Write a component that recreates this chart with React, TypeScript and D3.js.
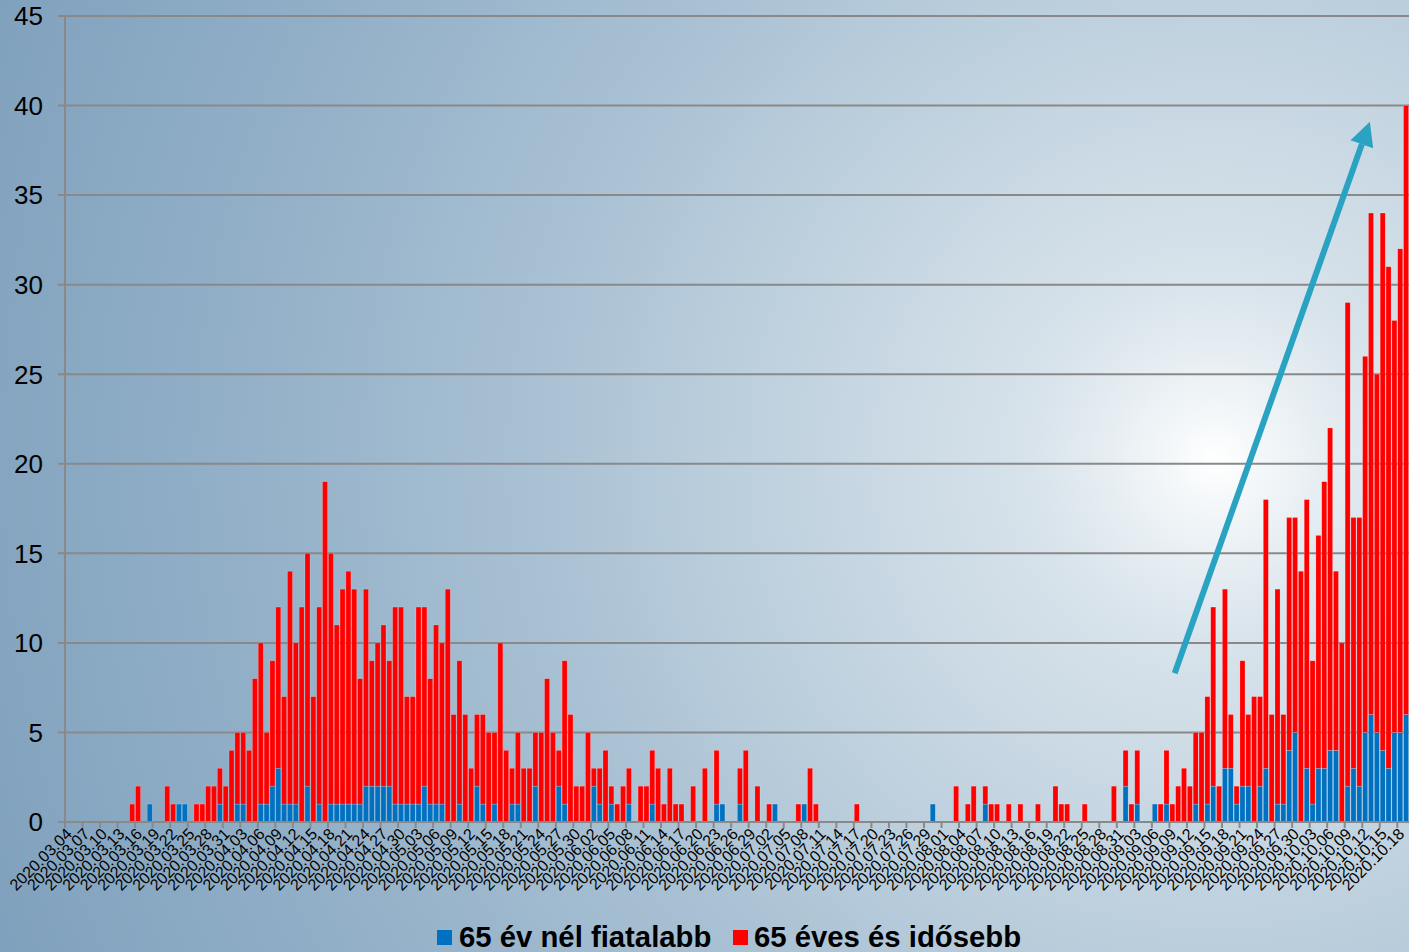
import React from "react";
import * as d3 from "d3";

// Categories: one per day, 2020.03.04 – 2020.10.19
const startDate = new Date(2020, 2, 4);
const endDate = new Date(2020, 9, 20);
const dates: Date[] = d3.timeDay.range(startDate, endDate);
const fmt = d3.timeFormat("%Y.%m.%d");
const categories: string[] = dates.map((d) => fmt(d));

// 65 év nél fiatalabb (blue)
const under65: number[] = [
  0, 0, 0, 0, 0, 0, 0, 0, 0, 0,
  0, 0, 0, 0, 1, 0, 0, 0, 0, 1,
  1, 0, 0, 0, 0, 0, 1, 0, 0, 1,
  1, 0, 0, 1, 1, 2, 3, 1, 1, 1,
  0, 2, 0, 1, 0, 1, 1, 1, 1, 1,
  1, 2, 2, 2, 2, 2, 1, 1, 1, 1,
  1, 2, 1, 1, 1, 0, 0, 1, 0, 0,
  2, 1, 0, 1, 0, 0, 1, 1, 0, 0,
  2, 0, 0, 0, 2, 1, 0, 0, 0, 0,
  2, 1, 0, 1, 0, 0, 1, 0, 0, 0,
  1, 0, 0, 0, 0, 0, 0, 0, 0, 0,
  0, 1, 1, 0, 0, 1, 0, 0, 0, 0,
  0, 1, 0, 0, 0, 0, 1, 0, 0, 0,
  0, 0, 0, 0, 0, 0, 0, 0, 0, 0,
  0, 0, 0, 0, 0, 0, 0, 0, 1, 0,
  0, 0, 0, 0, 0, 0, 0, 1, 0, 0,
  0, 0, 0, 0, 0, 0, 0, 0, 0, 0,
  0, 0, 0, 0, 0, 0, 0, 0, 0, 0,
  0, 2, 0, 1, 0, 0, 1, 0, 1, 0,
  0, 0, 0, 1, 0, 1, 2, 0, 3, 3,
  1, 2, 2, 0, 2, 3, 0, 1, 1, 4,
  5, 0, 3, 1, 3, 3, 4, 4, 0, 2,
  3, 2, 5, 6, 5, 4, 3, 5, 5, 6,
];

// 65 éves és idősebb (red)
const over65: number[] = [
  0, 0, 0, 0, 0, 0, 0, 0, 0, 0,
  0, 1, 2, 0, 0, 0, 0, 2, 1, 0,
  0, 0, 1, 1, 2, 2, 2, 2, 4, 4,
  4, 4, 8, 9, 4, 7, 9, 6, 13, 9,
  12, 13, 7, 11, 19, 14, 10, 12, 13, 12,
  7, 11, 7, 8, 9, 7, 11, 11, 6, 6,
  11, 10, 7, 10, 9, 13, 6, 8, 6, 3,
  4, 5, 5, 4, 10, 4, 2, 4, 3, 3,
  3, 5, 8, 5, 2, 8, 6, 2, 2, 5,
  1, 2, 4, 1, 1, 2, 2, 0, 2, 2,
  3, 3, 1, 3, 1, 1, 0, 2, 0, 3,
  0, 3, 0, 0, 0, 2, 4, 0, 2, 0,
  1, 0, 0, 0, 0, 1, 0, 3, 1, 0,
  0, 0, 0, 0, 0, 1, 0, 0, 0, 0,
  0, 0, 0, 0, 0, 0, 0, 0, 0, 0,
  0, 0, 2, 0, 1, 2, 0, 1, 1, 1,
  0, 1, 0, 1, 0, 0, 1, 0, 0, 2,
  1, 1, 0, 0, 1, 0, 0, 0, 0, 2,
  0, 2, 1, 3, 0, 0, 0, 1, 3, 1,
  2, 3, 2, 4, 5, 6, 10, 2, 10, 3,
  1, 7, 4, 7, 5, 15, 6, 12, 5, 13,
  12, 14, 15, 8, 13, 16, 18, 10, 10, 27,
  14, 15, 21, 28, 20, 30, 28, 23, 27, 34,
];

const yTicks: number[] = [0, 5, 10, 15, 20, 25, 30, 35, 40, 45];
const seriesKeys: string[] = ["under65", "over65"];
const seriesNames: string[] = ["65 év nél fiatalabb", "65 éves és idősebb"];
const seriesColors: string[] = ["#0070c0", "#ff0000"];

// trend arrow annotation (category index, value)
const arrowFrom: [number, number] = [189.4, 8.3];
const arrowTo: [number, number] = [222.8, 39.1];

const W = 1409;
const H = 952;
const M = { left: 65, right: 0, top: 16, bottom: 130 };

export default function App() {
  const x = d3
    .scaleBand<number>()
    .domain(d3.range(categories.length))
    .range([M.left, W - M.right])
    .paddingInner(0.14)
    .paddingOuter(0.07);
  const step = x.step();
  const y = d3.scaleLinear().domain([0, 45]).range([H - M.bottom, M.top]);
  const y0 = y(0);

  const rows = categories.map((c, i) => ({
    i,
    under65: under65[i],
    over65: over65[i],
  }));
  const stacked = d3.stack<any>().keys(seriesKeys)(rows);

  const catLeft = (i: number) => M.left + i * step;
  const catCenter = (i: number) => M.left + (i + 0.5) * step;

  const ax1 = catCenter(arrowFrom[0]);
  const ay1 = y(arrowFrom[1]);
  const ax2 = catCenter(arrowTo[0]);
  const ay2 = y(arrowTo[1]);
  const ang = Math.atan2(ay2 - ay1, ax2 - ax1);
  const headLen = 24;
  const headHalf = 12;
  const bx = ax2 - headLen * Math.cos(ang);
  const by = ay2 - headLen * Math.sin(ang);
  const px = -Math.sin(ang);
  const py = Math.cos(ang);
  const head = [
    [ax2, ay2],
    [bx + px * headHalf, by + py * headHalf],
    [bx - px * headHalf, by - py * headHalf],
  ];

  const tickIdx = d3.range(0, categories.length, 3);

  return (
    <div style={{ position: "absolute", left: 0, top: 0 }}>
      <svg
        width={W}
        height={H}
        style={{ display: "block", fontFamily: "'Liberation Sans', Arial, sans-serif" }}
      >
        <defs>
          <radialGradient
            id="bg"
            gradientUnits="userSpaceOnUse"
            cx={1215}
            cy={460}
            r={1300}
          >
            <stop offset="0" stopColor="#ffffff" />
            <stop offset="0.05" stopColor="#eff4f7" />
            <stop offset="0.14" stopColor="#d8e3eb" />
            <stop offset="0.37" stopColor="#bccfdd" />
            <stop offset="0.53" stopColor="#a8c0d3" />
            <stop offset="0.75" stopColor="#93b0c8" />
            <stop offset="1" stopColor="#80a1bd" />
          </radialGradient>
        </defs>
        <rect x={0} y={0} width={W} height={H} fill="url(#bg)" />

        {/* gridlines */}
        {yTicks.map((t) => (
          <line
            key={"g" + t}
            x1={M.left - 7}
            x2={W}
            y1={y(t)}
            y2={y(t)}
            stroke="#898989"
            strokeWidth={2}
          />
        ))}
        {/* y axis line */}
        <line x1={M.left} x2={M.left} y1={M.top} y2={y0} stroke="#898989" strokeWidth={2} />
        {yTicks.map((t) => (
          <text
            key={"yl" + t}
            x={43}
            y={y(t)}
            dy="0.36em"
            textAnchor="end"
            fontSize={26}
            fill="#000"
          >
            {t}
          </text>
        ))}

        {/* bars */}
        {stacked.map((s, si) => (
          <g key={s.key} fill={seriesColors[si]}>
            {s.map((d: any, i: number) =>
              d[1] - d[0] > 0 ? (
                <rect
                  key={i}
                  x={x(i)}
                  width={x.bandwidth()}
                  y={y(d[1])}
                  height={y(d[0]) - y(d[1])}
                  stroke="rgba(255,255,255,0.3)"
                  strokeWidth={0.6}
                />
              ) : null
            )}
          </g>
        ))}

        {/* x axis */}
        <line x1={M.left} x2={W} y1={y0} y2={y0} stroke="#898989" strokeWidth={2} />
        {tickIdx.map((i) => (
          <line
            key={"t" + i}
            x1={catLeft(i)}
            x2={catLeft(i)}
            y1={y0}
            y2={y0 + 6}
            stroke="#898989"
            strokeWidth={2}
          />
        ))}
        {tickIdx.map((i) => (
          <text
            key={"xl" + i}
            transform={`translate(${catCenter(i) + 5},${y0 + 13}) rotate(-45)`}
            textAnchor="end"
            fontSize={16}
            fill="#000"
          >
            {categories[i]}
          </text>
        ))}

        {/* trend arrow */}
        <line
          x1={ax1}
          y1={ay1}
          x2={bx}
          y2={by}
          stroke="#2aa3c2"
          strokeWidth={6}
        />
        <polygon points={head.map((p) => p.join(",")).join(" ")} fill="#2aa3c2" />

        {/* legend */}
        <rect x={437} y={930} width={15} height={15} fill={seriesColors[0]} />
        <text x={459} y={947} fontSize={29.3} fontWeight="bold" fill="#000">
          {seriesNames[0]}
        </text>
        <rect x={733} y={930} width={15} height={15} fill={seriesColors[1]} />
        <text x={754} y={947} fontSize={29.3} fontWeight="bold" fill="#000">
          {seriesNames[1]}
        </text>
      </svg>
    </div>
  );
}
